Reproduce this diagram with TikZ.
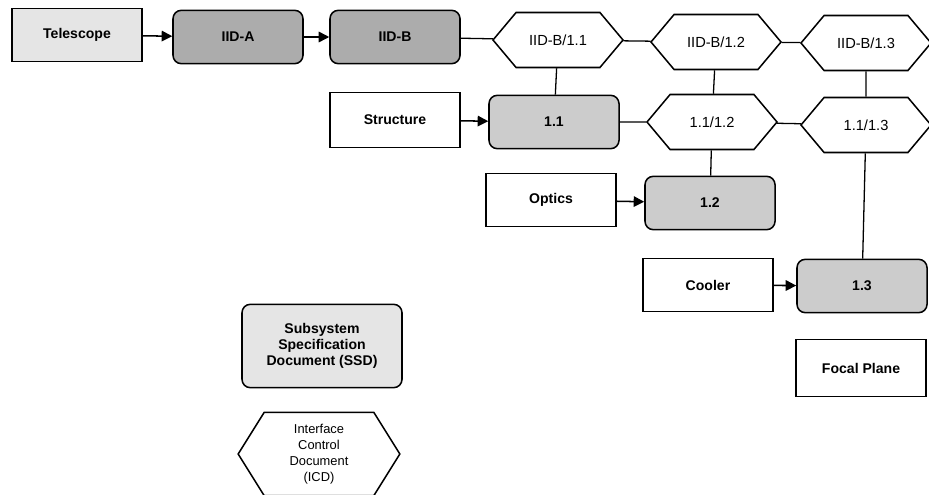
\documentclass[tikz,border=0pt]{standalone}
\usepackage{fontspec}
\setmainfont{Liberation Sans}
\usepackage{tikz}
\usetikzlibrary{shapes.symbols, arrows.meta}

\begin{document}
\begin{tikzpicture}[x=0.03cm, y=-0.03cm,
  box/.style={draw, line width=1.3pt, font=\fontsize{12}{14}\selectfont\bfseries,
    minimum width=3.9cm, minimum height=1.6cm},
  spec/.style={box, rounded corners=0.25cm},
  icd/.style={draw, line width=1.3pt, signal, signal to=west and east,
    signal pointer angle=100, font=\fontsize{12.5}{14}\selectfont,
    minimum width=3.9cm, minimum height=1.65cm, inner sep=0pt},
  link/.style={line width=1.3pt, -{Triangle[length=9pt,width=9pt]}},
  tie/.style={line width=1.1pt}]

\useasboundingbox (0,0) rectangle (929,494);

% top row
\node[box, fill=gray!20] (tel) at (77,35) {Telescope};
\node[spec, fill=gray!65] (iida) at (238,37) {IID-A};
\node[spec, fill=gray!65] (iidb) at (395,37) {IID-B};
\node[icd] (b11) at (558,40) {IID-B/1.1};
\node[icd] (b12) at (716,42) {IID-B/1.2};
\node[icd] (b13) at (866,43) {IID-B/1.3};

% second row
\node[box, minimum height=1.65cm] (str) at (395,120) {Structure};
\node[spec, fill=gray!40] (s11) at (554,122) {1.1};
\node[icd] (i12) at (712,122) {1.1/1.2};
\node[icd] (i13) at (866,125) {1.1/1.3};

% lower subsystems
\node[box] (opt) at (551,200) {Optics};
\node[spec, fill=gray!40] (s12) at (710,203) {1.2};
\node[box] (cool) at (708,285) {Cooler};
\node[spec, fill=gray!40] (s13) at (862,286) {1.3};
\node[box, minimum height=1.7cm] (foc) at (861,368) {Focal Plane};

% legend
\node[spec, fill=gray!20, align=center, minimum width=4.8cm, minimum height=2.5cm,
  font=\fontsize{12}{13.5}\selectfont\bfseries] (ssd) at (322,346)
  {Subsystem\\Specification\\Document (SSD)};
\node[icd, align=center, minimum width=4.85cm, minimum height=2.5cm,
  signal pointer angle=116, font=\fontsize{11}{13.5}\selectfont] (icdl) at (319,454)
  {Interface\\Control\\Document\\(ICD)};

\draw[link] (tel) -- (iida);
\draw[link] (iida) -- (iidb);
\draw[tie] (iidb) -- (b11);
\draw[tie] (b11) -- (b12);
\draw[tie] (b12) -- (b13);
\draw[link] (str) -- (s11);
\draw[tie] (s11) -- (i12);
\draw[tie] (i12) -- (i13);
\draw[tie] (b11) -- (s11);
\draw[tie] (b12) -- (i12);
\draw[tie] (b13) -- (i13);
\draw[link] (opt) -- (s12);
\draw[tie] (i12) -- (s12);
\draw[link] (cool) -- (s13);
\draw[tie] (i13) -- (s13);

\end{tikzpicture}
\end{document}
